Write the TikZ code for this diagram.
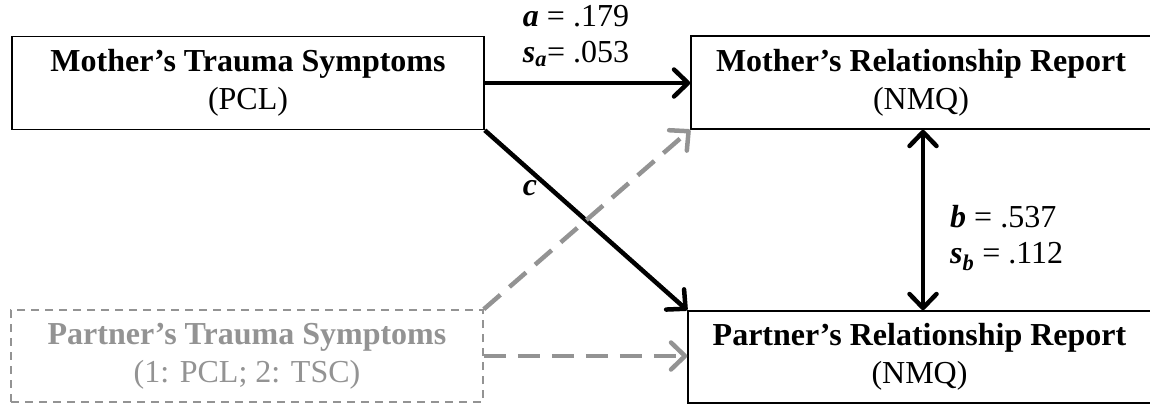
\documentclass[tikz,border=0pt]{standalone}
\usepackage{fontspec}
\setmainfont{Liberation Serif}
\usepackage{xcolor}
\usepackage{tikz}
\usetikzlibrary{arrows.meta, calc}
\definecolor{pgray}{HTML}{939393}
\tikzset{
  varbox/.style={draw=black, line width=1.5pt, minimum width=472pt, minimum height=93pt,
    inner sep=0pt, align=center, font=\fontsize{32}{38}\selectfont},
  partbox/.style={varbox, draw=pgray, text=pgray, dash pattern=on 8pt off 6pt},
  patharrow/.style={line width=4.5pt, -{Straight Barb[length=14pt, width=27pt, round]}},
  partarrow/.style={patharrow, draw=pgray, dash pattern=on 22pt off 12pt},
  coef/.style={font=\fontsize{32}{36}\selectfont, align=left, inner sep=0pt}
}
\newcommand{\bi}[1]{\textbf{\textit{#1}}}
\begin{document}
\begin{tikzpicture}[x=1pt, y=-1pt]
\useasboundingbox (0,0) rectangle (1150,404);
\node[varbox] (mtrauma) at (248,83) {\textbf{Mother's Trauma Symptoms}\\(PCL)};
\node[varbox, minimum width=460pt] (mrel) at (921,82.5) {\textbf{Mother's Relationship Report}\\(NMQ)};
\node[varbox, minimum width=463pt, minimum height=92pt] (prel) at (919.5,357) {\textbf{Partner's Relationship Report}\\(NMQ)};
\node[partbox, minimum height=92pt] (ptrauma) at (247,356) {\textbf{Partner's Trauma Symptoms}\\(1: PCL; 2: TSC)};
\coordinate (bline) at (923,0);
\draw[patharrow] (mtrauma.east) -- (mtrauma.east -| mrel.west);
\draw[patharrow] (mtrauma.south east) -- (prel.north west);
\draw[partarrow] (ptrauma.north east) -- (mrel.south west);
\draw[partarrow] (ptrauma.east) -- (ptrauma.east -| prel.west);
\draw[patharrow, {Straight Barb[length=14pt, width=27pt, round]}-{Straight Barb[length=14pt, width=27pt, round]}]
  (mrel.south -| bline) -- (prel.north -| bline);
\node[coef, align=center] (alab) at (576,36) {\bi{a} = .179\\\bi{s}\textsubscript{\bi{a}}= .053};
\node[coef] (clab) at (530,188) {\bi{c}};
\node[coef, anchor=west] (blab) at (950,238) {\bi{b} = .537\\\bi{s}\textsubscript{\bi{b}} = .112};
\end{tikzpicture}
\end{document}
